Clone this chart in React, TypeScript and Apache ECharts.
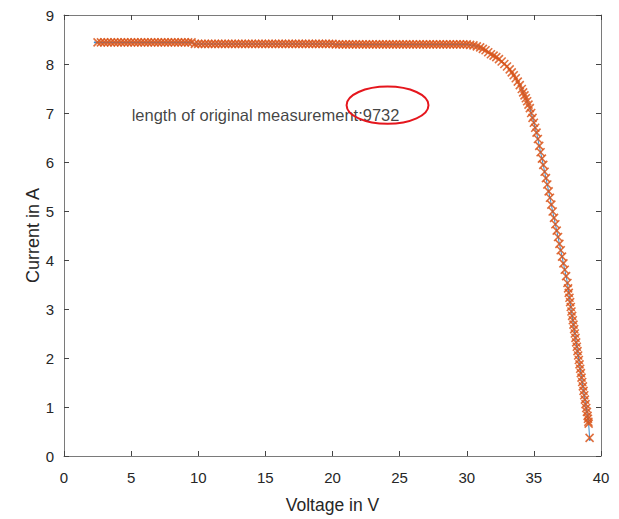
import React, { useEffect, useRef } from "react";
import * as echarts from "echarts";

// ---- data ----
const xTickInterval = 5;
const yTickInterval = 1;
const xRange = [0, 40];
const yRange = [0, 9];

const flatVoltage = [
  2.5, 2.75,
  3, 3.25, 3.5, 3.75,
  4, 4.25, 4.5, 4.75,
  5, 5.25, 5.5, 5.75,
  6, 6.25, 6.5, 6.75,
  7, 7.25, 7.5, 7.75,
  8, 8.25, 8.5, 8.75,
  9, 9.25, 9.5, 9.75,
  10, 10.25, 10.5, 10.75,
  11, 11.25, 11.5, 11.75,
  12, 12.25, 12.5, 12.75,
  13, 13.25, 13.5, 13.75,
  14, 14.25, 14.5, 14.75,
  15, 15.25, 15.5, 15.75,
  16, 16.25, 16.5, 16.75,
  17, 17.25, 17.5, 17.75,
  18, 18.25, 18.5, 18.75,
  19, 19.25, 19.5, 19.75,
  20, 20.25, 20.5, 20.75,
  21, 21.25, 21.5, 21.75,
  22, 22.25, 22.5, 22.75,
  23, 23.25, 23.5, 23.75,
  24, 24.25, 24.5, 24.75,
  25, 25.25, 25.5, 25.75,
  26, 26.25, 26.5, 26.75,
  27, 27.25, 27.5, 27.75,
  28, 28.25, 28.5, 28.75,
  29, 29.25, 29.5, 29.75,
  30,
];
const flatCurrent = [
  8.44, 8.44,
  8.44, 8.44, 8.44, 8.44,
  8.44, 8.44, 8.44, 8.44,
  8.44, 8.44, 8.44, 8.44,
  8.44, 8.44, 8.44, 8.44,
  8.44, 8.44, 8.44, 8.44,
  8.44, 8.44, 8.44, 8.44,
  8.44, 8.44, 8.44, 8.41,
  8.41, 8.41, 8.41, 8.41,
  8.41, 8.41, 8.41, 8.41,
  8.41, 8.41, 8.41, 8.41,
  8.41, 8.41, 8.41, 8.41,
  8.41, 8.41, 8.41, 8.41,
  8.41, 8.41, 8.41, 8.41,
  8.41, 8.41, 8.41, 8.41,
  8.41, 8.41, 8.41, 8.41,
  8.41, 8.41, 8.41, 8.41,
  8.41, 8.41, 8.41, 8.41,
  8.41, 8.40, 8.40, 8.40,
  8.40, 8.40, 8.40, 8.40,
  8.40, 8.40, 8.40, 8.40,
  8.40, 8.40, 8.40, 8.40,
  8.40, 8.40, 8.40, 8.40,
  8.40, 8.40, 8.40, 8.40,
  8.40, 8.40, 8.40, 8.40,
  8.40, 8.40, 8.40, 8.40,
  8.40, 8.40, 8.40, 8.40,
  8.40, 8.40, 8.40, 8.40,
  8.40, 8.40, 8.40, 8.40,
  8.39,
];

const dropVoltage = [
  30.25, 30.5, 30.75, 31.0, 31.2, 31.4, 31.6, 31.8, 32.0, 32.2,
  32.4, 32.6, 32.8, 33.0, 33.2, 33.35, 33.5, 33.65, 33.8, 33.95,
  34.1, 34.2, 34.3, 34.4, 34.5, 34.6, 34.7, 34.8, 34.9, 35.0,
  35.1, 35.2, 35.3, 35.4, 35.5, 35.6, 35.7, 35.8, 35.9, 36.0,
  36.1, 36.2, 36.3, 36.4, 36.5, 36.6, 36.7, 36.8, 36.9, 37.0,
  37.1, 37.2, 37.3, 37.4, 37.5, 37.55, 37.6, 37.65, 37.7, 37.75,
  37.8, 37.85, 37.9, 37.95, 38.0, 38.05, 38.1, 38.15, 38.2, 38.25,
  38.3, 38.35, 38.4, 38.45, 38.5, 38.55, 38.6, 38.65, 38.7, 38.75,
  38.8, 38.85, 38.9, 38.95, 39.0, 39.03, 39.06, 39.08, 39.15,
];
const dropCurrent = [
  8.39, 8.38, 8.36, 8.34, 8.31, 8.28, 8.24, 8.20, 8.17, 8.14,
  8.10, 8.05, 8.00, 7.95, 7.89, 7.83, 7.77, 7.71, 7.64, 7.57,
  7.49, 7.42, 7.36, 7.30, 7.24, 7.17, 7.10, 7.00, 6.90, 6.80,
  6.70, 6.60, 6.47, 6.33, 6.20, 6.07, 5.94, 5.80, 5.67, 5.54,
  5.40, 5.27, 5.13, 4.99, 4.86, 4.73, 4.60, 4.47, 4.33, 4.20,
  4.07, 3.93, 3.80, 3.67, 3.53, 3.42, 3.33, 3.23, 3.14, 3.04,
  2.95, 2.86, 2.77, 2.68, 2.59, 2.50, 2.41, 2.32, 2.23, 2.14,
  2.05, 1.96, 1.87, 1.78, 1.69, 1.60, 1.51, 1.42, 1.33, 1.24,
  1.15, 1.06, 0.98, 0.90, 0.82, 0.76, 0.70, 0.66, 0.37,
];

// raw measurement starts slightly earlier and ends slightly lower
const rawStart = [2.3, 8.44];
const rawEnd = [39.16, 0.33];

const annotationText = "length of original measurement:9732";
const annotationPoint = [5, 7];
const ellipseCenter = [24.1, 7.16];
const ellipseRadius = [3.05, 0.38];

const FONT = "'Liberation Sans', Arial, Helvetica, sans-serif";

export default function App() {
  const ref = useRef<HTMLDivElement | null>(null);

  useEffect(() => {
    if (!ref.current) return;
    const chart = echarts.init(ref.current, null, { renderer: "svg" });

    const sampled: number[][] = [];
    flatVoltage.forEach((v, i) => sampled.push([v, flatCurrent[i]]));
    dropVoltage.forEach((v, i) => sampled.push([v, dropCurrent[i]]));
    const raw = [rawStart, ...sampled.slice(0, sampled.length - 1), rawEnd];

    const axisLineColor = "#7a7a7a";
    const labelColor = "#262626";

    const baseX = {
      type: "value" as const,
      min: xRange[0],
      max: xRange[1],
      interval: xTickInterval,
      splitLine: { show: false },
      axisTick: { show: true, inside: true, length: 5, lineStyle: { color: "#444" } },
    };
    const baseY = {
      type: "value" as const,
      min: yRange[0],
      max: yRange[1],
      interval: yTickInterval,
      splitLine: { show: false },
      axisTick: { show: true, inside: true, length: 5, lineStyle: { color: "#444" } },
    };

    chart.setOption({
      animation: false,
      backgroundColor: "#ffffff",
      grid: { left: 64, right: 18, top: 15, bottom: 57, containLabel: false },
      xAxis: [
        {
          ...baseX,
          position: "bottom",
          axisLine: { show: true, onZero: false, lineStyle: { color: axisLineColor } },
          axisLabel: { color: labelColor, fontSize: 15, fontFamily: FONT, margin: 14 },
          name: "Voltage in V",
          nameLocation: "middle",
          nameGap: 40,
          nameMoveOverlap: false,
          nameTextStyle: { color: labelColor, fontSize: 17.5, fontFamily: FONT },
        },
        {
          ...baseX,
          position: "top",
          axisLine: { show: true, onZero: false, lineStyle: { color: axisLineColor } },
          axisLabel: { show: false },
        },
      ],
      yAxis: [
        {
          ...baseY,
          position: "left",
          axisLine: { show: true, onZero: false, lineStyle: { color: axisLineColor } },
          axisLabel: { color: labelColor, fontSize: 15, fontFamily: FONT, margin: 10 },
          name: "Current in A",
          nameLocation: "middle",
          nameGap: 22,
          nameMoveOverlap: false,
          nameTextStyle: { color: labelColor, fontSize: 18, fontFamily: FONT },
        },
        {
          ...baseY,
          position: "right",
          axisLine: { show: true, onZero: false, lineStyle: { color: axisLineColor } },
          axisLabel: { show: false },
        },
      ],
      series: [
        {
          type: "line",
          data: raw,
          xAxisIndex: 0,
          yAxisIndex: 0,
          showSymbol: true,
          symbol: "circle",
          symbolSize: 2,
          itemStyle: { color: "#3d8fd1" },
          lineStyle: { color: "#3d8fd1", width: 1 },
          silent: true,
          z: 2,
        },
        {
          type: "scatter",
          data: sampled,
          xAxisIndex: 0,
          yAxisIndex: 0,
          symbol: "path://M0,0L10,10M10,0L0,10",
          symbolSize: 8,
          itemStyle: {
            color: "rgba(0,0,0,0)",
            borderColor: "#DB561B",
            borderWidth: 1.6,
            opacity: 0.85,
          },
          silent: true,
          z: 3,
        },
        {
          type: "scatter",
          data: [annotationPoint],
          symbolSize: 1,
          itemStyle: { color: "rgba(0,0,0,0)" },
          label: {
            show: true,
            position: "right",
            distance: 0,
            offset: [0, 2],
            formatter: annotationText,
            color: "#111",
            fontSize: 16.5,
            fontFamily: FONT,
          },
          silent: true,
          z: 5,
        },
      ],
    });

    const c = chart.convertToPixel({ gridIndex: 0 }, ellipseCenter) as number[];
    const e = chart.convertToPixel({ gridIndex: 0 }, [
      ellipseCenter[0] + ellipseRadius[0],
      ellipseCenter[1] + ellipseRadius[1],
    ]) as number[];
    chart.setOption({
      graphic: [
        {
          type: "ellipse",
          shape: { cx: c[0], cy: c[1], rx: Math.abs(e[0] - c[0]), ry: Math.abs(e[1] - c[1]) },
          style: { fill: "none", stroke: "#e5161d", lineWidth: 2 },
          z: 10,
          silent: true,
        },
      ],
    });

    return () => chart.dispose();
  }, []);

  return (
    <div
      ref={ref}
      style={{ position: "fixed", left: 0, top: 0, width: 619, height: 519, background: "#fff" }}
    />
  );
}
